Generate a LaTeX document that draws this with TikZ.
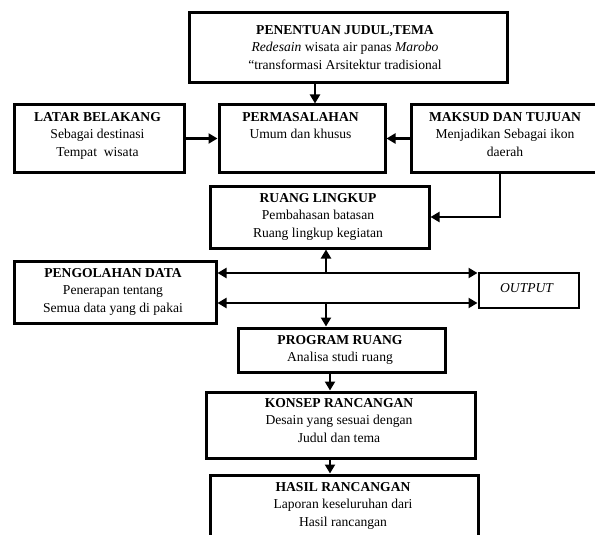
\documentclass[tikz,border=0pt]{standalone}
\usepackage{fontspec}
\setmainfont{Liberation Serif}
\usetikzlibrary{arrows.meta,calc}
\begin{document}
\begin{tikzpicture}[x=1pt,y=-1pt,
  box/.style={draw=black,line width=3pt,rectangle,inner sep=0pt,anchor=north west},
  txt/.style={align=center,inner sep=0pt,anchor=north,font=\fontsize{13.6}{17.5}\selectfont},
  arr/.style={line width=2.8pt,-{Triangle[length=9pt,width=10pt]}},
  darr/.style={line width=2.8pt,{Triangle[length=9pt,width=10pt]}-{Triangle[length=9pt,width=10pt]}}]
\useasboundingbox (0,0) rectangle (595,535);
\clip (0,0) rectangle (595,535);
% boxes (line centres)
\node[box,minimum width=318pt,minimum height=70pt] (top) at (187.5,11.5) {};
\node[box,minimum width=170pt,minimum height=67pt] (latar) at (12.5,103.5) {};
\node[box,minimum width=166pt,minimum height=67pt] (perm) at (217.5,103.5) {};
\node[box,minimum width=200pt,minimum height=67pt] (maksud) at (409.5,103.5) {};
\node[box,minimum width=219pt,minimum height=62pt] (ruang) at (208.5,184.5) {};
\node[box,minimum width=202pt,minimum height=62pt] (olah) at (12.5,259.5) {};
\node[box,minimum width=100pt,minimum height=35pt,line width=2.7pt] (out) at (477.5,271.5) {};
\node[box,minimum width=207pt,minimum height=44pt] (prog) at (236.5,326.5) {};
\node[box,minimum width=269pt,minimum height=66pt] (konsep) at (204.5,390.5) {};
\node[box,minimum width=268pt,minimum height=80pt] (hasil) at (208.5,473.5) {};
% texts
\node[txt] (ttop) at (345,25) {\textbf{PENENTUAN JUDUL,TEMA}\\\textit{Redesain} wisata air panas \textit{Marobo}\\“transformasi Arsitektur tradisional};
\node[txt] (tlatar) at (97.5,112) {\textbf{LATAR BELAKANG}\\Sebagai destinasi\\Tempat\ \ wisata};
\node[txt] (tperm) at (300.5,112) {\textbf{PERMASALAHAN}\\Umum dan khusus};
\node[txt] (tmaksud) at (505,112) {\textbf{MAKSUD DAN TUJUAN}\\Menjadikan Sebagai ikon\\daerah};
\node[txt] (truang) at (318,193) {\textbf{RUANG LINGKUP}\\Pembahasan batasan\\Ruang lingkup kegiatan};
\node[txt] (tolah) at (113,268) {\textbf{PENGOLAHAN DATA}\\Penerapan tentang\\Semua data yang di pakai};
\node[txt,anchor=center] (tout) at (527,288) {\textit{OUTPUT}};
\node[txt] (tprog) at (340,335) {\textbf{PROGRAM RUANG}\\Analisa studi ruang};
\node[txt] (tkonsep) at (339,398) {\textbf{KONSEP RANCANGAN}\\Desain yang sesuai dengan\\Judul dan tema};
\node[txt] (thasil) at (343,482) {\textbf{HASIL RANCANGAN}\\Laporan keseluruhan dari\\Hasil rancangan};
% helper coordinates
\coordinate (xa) at (315,0);
\coordinate (xb) at (500,215.5);
\coordinate (ya) at (326,273);
\coordinate (yb) at (326,303);
\coordinate (xc) at (330,0);
% connectors
\draw[arr] (top.south -| xa) -- (perm.north -| xa);
\draw[arr] (latar.east) -- (perm.west);
\draw[arr] (maksud.west) -- (perm.east);
\draw[arr] (maksud.south -| xb) |- (ruang.east);
\draw[darr] (olah.east |- ya) -- (out.west |- ya);
\draw[darr] (olah.east |- yb) -- (out.west |- yb);
\draw[arr] (ya) -- (ruang.south -| ya);
\draw[arr] (yb) -- (prog.north -| yb);
\draw[arr] (prog.south -| xc) -- (konsep.north -| xc);
\draw[arr] (konsep.south -| xc) -- (hasil.north -| xc);
\end{tikzpicture}
\end{document}
